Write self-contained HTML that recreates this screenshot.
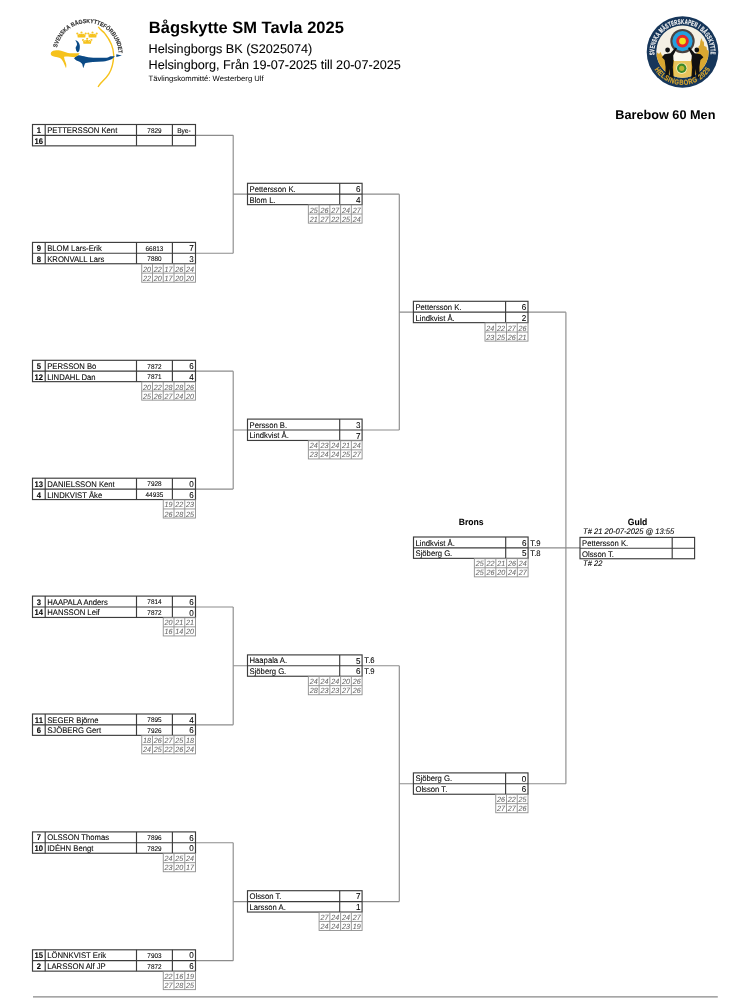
<!DOCTYPE html>
<html><head><meta charset="utf-8"><title>Bågskytte SM Tavla 2025</title>
<style>
html,body{margin:0;padding:0;background:#fff;}
body{width:751px;height:1000px;overflow:hidden;position:relative;font-family:"Liberation Sans", sans-serif;}
svg{position:absolute;left:0;top:0;will-change:transform;}
svg text{font-family:"Liberation Sans", sans-serif;text-rendering:geometricPrecision;}
</style></head><body>
<svg width="751" height="1000" viewBox="0 0 751 1000">
<text x="148.8" y="33.2" font-size="16.5" font-weight="bold">Bågskytte SM Tavla 2025</text>
<text x="148.5" y="52.5" font-size="12.65" stroke="#000" stroke-width="0.08">Helsingborgs BK (S2025074)</text>
<text x="148.5" y="69.2" font-size="12.65" stroke="#000" stroke-width="0.08">Helsingborg, Från 19-07-2025 till 20-07-2025</text>
<text x="148.5" y="80.6" font-size="7.7">Tävlingskommitté: Westerberg Ulf</text>
<text x="715.4" y="119" font-size="12.7" font-weight="bold" text-anchor="end">Barebow 60 Men</text>
<g id="sbf">
<text transform="translate(57.51,46.13) rotate(-75.3) scale(0.88,1)" text-anchor="middle" font-size="5.9" font-weight="bold" fill="#2e2e2e" stroke="#2e2e2e" stroke-width="0.12">S</text>
<text transform="translate(58.57,42.86) rotate(-68.9) scale(0.88,1)" text-anchor="middle" font-size="5.9" font-weight="bold" fill="#2e2e2e" stroke="#2e2e2e" stroke-width="0.12">V</text>
<text transform="translate(59.98,39.72) rotate(-62.6) scale(0.88,1)" text-anchor="middle" font-size="5.9" font-weight="bold" fill="#2e2e2e" stroke="#2e2e2e" stroke-width="0.12">E</text>
<text transform="translate(61.82,36.64) rotate(-55.9) scale(0.88,1)" text-anchor="middle" font-size="5.9" font-weight="bold" fill="#2e2e2e" stroke="#2e2e2e" stroke-width="0.12">N</text>
<text transform="translate(63.99,33.79) rotate(-49.3) scale(0.88,1)" text-anchor="middle" font-size="5.9" font-weight="bold" fill="#2e2e2e" stroke="#2e2e2e" stroke-width="0.12">S</text>
<text transform="translate(66.48,31.22) rotate(-42.7) scale(0.88,1)" text-anchor="middle" font-size="5.9" font-weight="bold" fill="#2e2e2e" stroke="#2e2e2e" stroke-width="0.12">K</text>
<text transform="translate(69.36,28.86) rotate(-35.8) scale(0.88,1)" text-anchor="middle" font-size="5.9" font-weight="bold" fill="#2e2e2e" stroke="#2e2e2e" stroke-width="0.12">A</text>
<text transform="translate(73.77,26.21) rotate(-26.3) scale(0.88,1)" text-anchor="middle" font-size="5.9" font-weight="bold" fill="#2e2e2e" stroke="#2e2e2e" stroke-width="0.12">B</text>
<text transform="translate(77.20,24.76) rotate(-19.4) scale(0.88,1)" text-anchor="middle" font-size="5.9" font-weight="bold" fill="#2e2e2e" stroke="#2e2e2e" stroke-width="0.12">Å</text>
<text transform="translate(80.93,23.70) rotate(-12.2) scale(0.88,1)" text-anchor="middle" font-size="5.9" font-weight="bold" fill="#2e2e2e" stroke="#2e2e2e" stroke-width="0.12">G</text>
<text transform="translate(84.61,23.13) rotate(-5.3) scale(0.88,1)" text-anchor="middle" font-size="5.9" font-weight="bold" fill="#2e2e2e" stroke="#2e2e2e" stroke-width="0.12">S</text>
<text transform="translate(88.19,23.01) rotate(1.3) scale(0.88,1)" text-anchor="middle" font-size="5.9" font-weight="bold" fill="#2e2e2e" stroke="#2e2e2e" stroke-width="0.12">K</text>
<text transform="translate(91.76,23.29) rotate(7.9) scale(0.88,1)" text-anchor="middle" font-size="5.9" font-weight="bold" fill="#2e2e2e" stroke="#2e2e2e" stroke-width="0.12">Y</text>
<text transform="translate(95.00,23.92) rotate(14.0) scale(0.88,1)" text-anchor="middle" font-size="5.9" font-weight="bold" fill="#2e2e2e" stroke="#2e2e2e" stroke-width="0.12">T</text>
<text transform="translate(98.01,24.84) rotate(19.8) scale(0.88,1)" text-anchor="middle" font-size="5.9" font-weight="bold" fill="#2e2e2e" stroke="#2e2e2e" stroke-width="0.12">T</text>
<text transform="translate(101.05,26.12) rotate(25.9) scale(0.88,1)" text-anchor="middle" font-size="5.9" font-weight="bold" fill="#2e2e2e" stroke="#2e2e2e" stroke-width="0.12">E</text>
<text transform="translate(103.93,27.71) rotate(32.0) scale(0.88,1)" text-anchor="middle" font-size="5.9" font-weight="bold" fill="#2e2e2e" stroke="#2e2e2e" stroke-width="0.12">F</text>
<text transform="translate(106.85,29.78) rotate(38.6) scale(0.88,1)" text-anchor="middle" font-size="5.9" font-weight="bold" fill="#2e2e2e" stroke="#2e2e2e" stroke-width="0.12">Ö</text>
<text transform="translate(109.72,32.38) rotate(45.8) scale(0.88,1)" text-anchor="middle" font-size="5.9" font-weight="bold" fill="#2e2e2e" stroke="#2e2e2e" stroke-width="0.12">R</text>
<text transform="translate(112.15,35.20) rotate(52.7) scale(0.88,1)" text-anchor="middle" font-size="5.9" font-weight="bold" fill="#2e2e2e" stroke="#2e2e2e" stroke-width="0.12">B</text>
<text transform="translate(114.23,38.30) rotate(59.6) scale(0.88,1)" text-anchor="middle" font-size="5.9" font-weight="bold" fill="#2e2e2e" stroke="#2e2e2e" stroke-width="0.12">U</text>
<text transform="translate(115.92,41.62) rotate(66.5) scale(0.88,1)" text-anchor="middle" font-size="5.9" font-weight="bold" fill="#2e2e2e" stroke="#2e2e2e" stroke-width="0.12">N</text>
<text transform="translate(117.20,45.12) rotate(73.4) scale(0.88,1)" text-anchor="middle" font-size="5.9" font-weight="bold" fill="#2e2e2e" stroke="#2e2e2e" stroke-width="0.12">D</text>
<text transform="translate(118.03,48.60) rotate(80.0) scale(0.88,1)" text-anchor="middle" font-size="5.9" font-weight="bold" fill="#2e2e2e" stroke="#2e2e2e" stroke-width="0.12">E</text>
<text transform="translate(118.43,51.88) rotate(86.1) scale(0.88,1)" text-anchor="middle" font-size="5.9" font-weight="bold" fill="#2e2e2e" stroke="#2e2e2e" stroke-width="0.12">T</text>
<g fill="#f6c21c">
<path id="crown" d="M-3.8,2.6 L-4.2,-1.0 L-2.2,0.4 L0,-2.0 L2.2,0.4 L4.2,-1.0 L3.8,2.6 Z M-4.2,-2.2 a1,1 0 1 0 0.01,0 Z M0,-3.4 a1,1 0 1 0 0.01,0 Z M4.2,-2.2 a1,1 0 1 0 0.01,0 Z M-2.2,-1.1 a0.7,0.7 0 1 0 0.01,0 Z M2.2,-1.1 a0.7,0.7 0 1 0 0.01,0 Z" transform="translate(81.5,34.8)"/>
<use href="#crown" transform="translate(11,0)"/>
<use href="#crown" transform="translate(5.7,6.4)"/>
</g>
<path d="M98.3,26.7 C100,30 103,31 105,33.7 C110,40 113.5,48 113.7,55 C113.5,65 110,72 108.9,73.8 C105,80 99,84 98.2,87" fill="none" stroke="#f6c21c" stroke-width="1.4"/>
<path fill="#0b4a86" d="M74.1,58.4 C75.5,56.5 77.5,55.3 78.9,55.3 C81,55.5 83.5,56.3 85.9,56.7 C89,57.3 92,57.7 96.2,57.7 L106.6,57.7 C108.5,57.5 109.5,56.4 110.8,56.2 L114.8,56.2 C113.5,57.5 112.5,58.9 110.8,59.4 C108,60.5 106,61.2 103.2,61.5 L92.8,61.9 C90,62.1 87.5,62.5 85.9,62.9 C85,63.3 84.8,63.6 84.6,64.4 L83.2,68.3 L82.3,64.2 C81.8,63.2 80.5,62 78.9,61.5 C77.5,61 76.2,60.4 75.5,59.8 Z"/>
<path fill="#0b4a86" d="M75.3,40.1 C77.5,40.8 79.2,42.5 79.7,45 C80.1,47.5 79.7,50 78.9,51.4 L77.4,52.3 C76.4,51.2 75.9,50.2 75.9,49.3 C75.6,48 75.5,47.2 76.2,46.5 C77.1,45.4 77.3,44.2 76.6,42.6 C76.2,41.6 75.7,40.9 75.3,40.1 Z"/>
<path fill="#0b4a86" d="M116.3,54.2 L121.9,55.6 L116.3,57 Z"/>
<path fill="#f6c21c" d="M50.7,53.7 C51,51.8 52.5,50.9 54.7,50.6 C56,50.3 57.5,50.2 58.7,50.3 C62,50.6 65,52.3 68,52.9 C70.5,53.2 72.5,53.2 74.7,53.2 L79.7,53.3 C79,54.5 78.2,55.2 77.3,55.7 C76.4,56.4 75.5,57 74.7,57.2 L68,56.4 C66.5,56.4 65,56.5 64,56.8 C64.3,58 64.4,59 64.7,60 C65.4,61.8 66.1,63.2 66.3,64.7 C66.5,66 66.3,67.2 66,68.2 C65,66 64.2,64 63.3,62 C62.3,60.2 61.2,58.8 60,58 C58.3,57.3 56.5,56.9 54.7,56.7 C52.5,56.3 50.6,55.3 50.7,53.7 Z"/>
</g>
<g id="smh">
<defs>
<clipPath id="inner"><circle cx="682.5" cy="51.6" r="26.2"/></clipPath>
</defs>
<circle cx="682.5" cy="52.0" r="35.8" fill="#16365a"/>
<circle cx="682.5" cy="51.6" r="26.2" fill="#f4f0e4"/>
<g clip-path="url(#inner)">
<path fill="#d9a731" d="M650,57 L656,55.5 L657.5,52.5 L659,54 L660.5,52 L662,55.5 L664,56 L668,60 L674,60 L674,90 L650,90 Z"/>
<path fill="#d9a731" d="M691,60 L694,56 L698,52 L698.5,46.5 L700,45 L700.3,41.5 L701.5,38 L702.7,41.5 L703.8,41.5 L704.2,46 L706.5,47 L707,50 L712,52 L716,54 L716,90 L691,90 Z"/>
<path fill="#fbf8ee" d="M674,52.5 L691,52.5 L691,61 L674,61 Z"/>
<path fill="#e9c45c" d="M674,61 L691,61 L691,80 L674,80 Z"/>
</g>
<circle cx="681.7" cy="68.3" r="5.6" fill="#f6eab0"/>
<circle cx="681.7" cy="68.3" r="4.7" fill="#3d8a2a"/>
<circle cx="681.7" cy="68.3" r="2.6" fill="#b9b531"/>
<circle cx="682.5" cy="41.1" r="12.2" fill="#4a4240"/>
<circle cx="682.5" cy="41.1" r="10.1" fill="#24a0de"/>
<circle cx="682.5" cy="41.1" r="6.3" fill="#e5262b"/>
<circle cx="682.5" cy="41.1" r="3.4" fill="#f4e11e"/>
<g fill="#111">
<circle cx="667.6" cy="50" r="2.4"/>
<path d="M662,57.2 L664.5,54.3 L670.5,53.2 L675.5,47.5 L677,48.3 L673.2,55.5 L673.5,61 L672.8,67 L673.6,78.5 L670.3,78.5 L669.3,69 L668.4,78.5 L665.3,78.5 L665.6,67 L664.6,60 Z"/>
<circle cx="696.8" cy="50" r="2.4"/>
<path d="M703.4,57.2 L700.6,54.3 L694.6,53.2 L689.5,47.3 L688,48.1 L691.8,55.5 L691.5,61 L692.2,67 L691.4,78.5 L694.7,78.5 L695.7,69 L696.6,78.5 L699.7,78.5 L699.4,67 L700.4,60 Z"/>
</g>
<text transform="translate(654.44,53.52) rotate(-93.1) scale(0.62,1)" text-anchor="middle" font-size="6.9" font-weight="bold" fill="#f4f4f4" stroke="#f4f4f4" stroke-width="0.2">S</text>
<text transform="translate(654.44,50.47) rotate(-86.9) scale(0.62,1)" text-anchor="middle" font-size="6.9" font-weight="bold" fill="#f4f4f4" stroke="#f4f4f4" stroke-width="0.2">V</text>
<text transform="translate(654.77,47.44) rotate(-80.7) scale(0.62,1)" text-anchor="middle" font-size="6.9" font-weight="bold" fill="#f4f4f4" stroke="#f4f4f4" stroke-width="0.2">E</text>
<text transform="translate(655.46,44.36) rotate(-74.2) scale(0.62,1)" text-anchor="middle" font-size="6.9" font-weight="bold" fill="#f4f4f4" stroke="#f4f4f4" stroke-width="0.2">N</text>
<text transform="translate(656.49,41.37) rotate(-67.8) scale(0.62,1)" text-anchor="middle" font-size="6.9" font-weight="bold" fill="#f4f4f4" stroke="#f4f4f4" stroke-width="0.2">S</text>
<text transform="translate(657.85,38.51) rotate(-61.3) scale(0.62,1)" text-anchor="middle" font-size="6.9" font-weight="bold" fill="#f4f4f4" stroke="#f4f4f4" stroke-width="0.2">K</text>
<text transform="translate(659.59,35.73) rotate(-54.6) scale(0.62,1)" text-anchor="middle" font-size="6.9" font-weight="bold" fill="#f4f4f4" stroke="#f4f4f4" stroke-width="0.2">A</text>
<text transform="translate(662.76,32.00) rotate(-44.6) scale(0.62,1)" text-anchor="middle" font-size="6.9" font-weight="bold" fill="#f4f4f4" stroke="#f4f4f4" stroke-width="0.2">M</text>
<text transform="translate(665.41,29.69) rotate(-37.5) scale(0.62,1)" text-anchor="middle" font-size="6.9" font-weight="bold" fill="#f4f4f4" stroke="#f4f4f4" stroke-width="0.2">Ä</text>
<text transform="translate(668.02,27.92) rotate(-31.0) scale(0.62,1)" text-anchor="middle" font-size="6.9" font-weight="bold" fill="#f4f4f4" stroke="#f4f4f4" stroke-width="0.2">S</text>
<text transform="translate(670.61,26.54) rotate(-25.0) scale(0.62,1)" text-anchor="middle" font-size="6.9" font-weight="bold" fill="#f4f4f4" stroke="#f4f4f4" stroke-width="0.2">T</text>
<text transform="translate(673.32,25.44) rotate(-19.1) scale(0.62,1)" text-anchor="middle" font-size="6.9" font-weight="bold" fill="#f4f4f4" stroke="#f4f4f4" stroke-width="0.2">E</text>
<text transform="translate(676.36,24.58) rotate(-12.6) scale(0.62,1)" text-anchor="middle" font-size="6.9" font-weight="bold" fill="#f4f4f4" stroke="#f4f4f4" stroke-width="0.2">R</text>
<text transform="translate(679.48,24.06) rotate(-6.2) scale(0.62,1)" text-anchor="middle" font-size="6.9" font-weight="bold" fill="#f4f4f4" stroke="#f4f4f4" stroke-width="0.2">S</text>
<text transform="translate(682.64,23.90) rotate(0.3) scale(0.62,1)" text-anchor="middle" font-size="6.9" font-weight="bold" fill="#f4f4f4" stroke="#f4f4f4" stroke-width="0.2">K</text>
<text transform="translate(685.91,24.11) rotate(7.0) scale(0.62,1)" text-anchor="middle" font-size="6.9" font-weight="bold" fill="#f4f4f4" stroke="#f4f4f4" stroke-width="0.2">A</text>
<text transform="translate(689.02,24.67) rotate(13.4) scale(0.62,1)" text-anchor="middle" font-size="6.9" font-weight="bold" fill="#f4f4f4" stroke="#f4f4f4" stroke-width="0.2">P</text>
<text transform="translate(691.94,25.53) rotate(19.6) scale(0.62,1)" text-anchor="middle" font-size="6.9" font-weight="bold" fill="#f4f4f4" stroke="#f4f4f4" stroke-width="0.2">E</text>
<text transform="translate(694.85,26.76) rotate(26.1) scale(0.62,1)" text-anchor="middle" font-size="6.9" font-weight="bold" fill="#f4f4f4" stroke="#f4f4f4" stroke-width="0.2">N</text>
<text transform="translate(698.07,28.61) rotate(33.6) scale(0.62,1)" text-anchor="middle" font-size="6.9" font-weight="bold" fill="#f4f4f4" stroke="#f4f4f4" stroke-width="0.2">I</text>
<text transform="translate(701.02,30.86) rotate(41.2) scale(0.62,1)" text-anchor="middle" font-size="6.9" font-weight="bold" fill="#f4f4f4" stroke="#f4f4f4" stroke-width="0.2">B</text>
<text transform="translate(703.35,33.16) rotate(47.9) scale(0.62,1)" text-anchor="middle" font-size="6.9" font-weight="bold" fill="#f4f4f4" stroke="#f4f4f4" stroke-width="0.2">Å</text>
<text transform="translate(705.47,35.82) rotate(54.8) scale(0.62,1)" text-anchor="middle" font-size="6.9" font-weight="bold" fill="#f4f4f4" stroke="#f4f4f4" stroke-width="0.2">G</text>
<text transform="translate(707.20,38.61) rotate(61.5) scale(0.62,1)" text-anchor="middle" font-size="6.9" font-weight="bold" fill="#f4f4f4" stroke="#f4f4f4" stroke-width="0.2">S</text>
<text transform="translate(708.55,41.47) rotate(68.0) scale(0.62,1)" text-anchor="middle" font-size="6.9" font-weight="bold" fill="#f4f4f4" stroke="#f4f4f4" stroke-width="0.2">K</text>
<text transform="translate(709.57,44.46) rotate(74.4) scale(0.62,1)" text-anchor="middle" font-size="6.9" font-weight="bold" fill="#f4f4f4" stroke="#f4f4f4" stroke-width="0.2">Y</text>
<text transform="translate(710.21,47.32) rotate(80.4) scale(0.62,1)" text-anchor="middle" font-size="6.9" font-weight="bold" fill="#f4f4f4" stroke="#f4f4f4" stroke-width="0.2">T</text>
<text transform="translate(710.54,50.10) rotate(86.1) scale(0.62,1)" text-anchor="middle" font-size="6.9" font-weight="bold" fill="#f4f4f4" stroke="#f4f4f4" stroke-width="0.2">T</text>
<text transform="translate(710.58,53.03) rotate(92.1) scale(0.62,1)" text-anchor="middle" font-size="6.9" font-weight="bold" fill="#f4f4f4" stroke="#f4f4f4" stroke-width="0.2">E</text>
<text transform="translate(655.77,71.19) rotate(54.3) scale(0.8,1)" text-anchor="middle" font-size="7.3" font-weight="bold" fill="#d9a62c" stroke="#d9a62c" stroke-width="0.2">H</text>
<text transform="translate(658.72,74.74) rotate(46.3) scale(0.8,1)" text-anchor="middle" font-size="7.3" font-weight="bold" fill="#d9a62c" stroke="#d9a62c" stroke-width="0.2">E</text>
<text transform="translate(661.89,77.64) rotate(38.8) scale(0.8,1)" text-anchor="middle" font-size="7.3" font-weight="bold" fill="#d9a62c" stroke="#d9a62c" stroke-width="0.2">L</text>
<text transform="translate(665.41,80.11) rotate(31.3) scale(0.8,1)" text-anchor="middle" font-size="7.3" font-weight="bold" fill="#d9a62c" stroke="#d9a62c" stroke-width="0.2">S</text>
<text transform="translate(668.33,81.69) rotate(25.5) scale(0.8,1)" text-anchor="middle" font-size="7.3" font-weight="bold" fill="#d9a62c" stroke="#d9a62c" stroke-width="0.2">I</text>
<text transform="translate(671.55,83.03) rotate(19.4) scale(0.8,1)" text-anchor="middle" font-size="7.3" font-weight="bold" fill="#d9a62c" stroke="#d9a62c" stroke-width="0.2">N</text>
<text transform="translate(676.33,84.32) rotate(10.8) scale(0.8,1)" text-anchor="middle" font-size="7.3" font-weight="bold" fill="#d9a62c" stroke="#d9a62c" stroke-width="0.2">G</text>
<text transform="translate(681.24,84.88) rotate(2.2) scale(0.8,1)" text-anchor="middle" font-size="7.3" font-weight="bold" fill="#d9a62c" stroke="#d9a62c" stroke-width="0.2">B</text>
<text transform="translate(686.18,84.69) rotate(-6.4) scale(0.8,1)" text-anchor="middle" font-size="7.3" font-weight="bold" fill="#d9a62c" stroke="#d9a62c" stroke-width="0.2">O</text>
<text transform="translate(691.03,83.77) rotate(-15.0) scale(0.8,1)" text-anchor="middle" font-size="7.3" font-weight="bold" fill="#d9a62c" stroke="#d9a62c" stroke-width="0.2">R</text>
<text transform="translate(695.70,82.14) rotate(-23.7) scale(0.8,1)" text-anchor="middle" font-size="7.3" font-weight="bold" fill="#d9a62c" stroke="#d9a62c" stroke-width="0.2">G</text>
<text transform="translate(701.48,78.87) rotate(-35.2) scale(0.8,1)" text-anchor="middle" font-size="7.3" font-weight="bold" fill="#d9a62c" stroke="#d9a62c" stroke-width="0.2">2</text>
<text transform="translate(704.46,76.49) rotate(-41.9) scale(0.8,1)" text-anchor="middle" font-size="7.3" font-weight="bold" fill="#d9a62c" stroke="#d9a62c" stroke-width="0.2">0</text>
<text transform="translate(707.15,73.79) rotate(-48.5) scale(0.8,1)" text-anchor="middle" font-size="7.3" font-weight="bold" fill="#d9a62c" stroke="#d9a62c" stroke-width="0.2">2</text>
<text transform="translate(709.51,70.79) rotate(-55.2) scale(0.8,1)" text-anchor="middle" font-size="7.3" font-weight="bold" fill="#d9a62c" stroke="#d9a62c" stroke-width="0.2">5</text>
</g>
<line x1="195.50" y1="135.35" x2="233.20" y2="135.35" stroke="#8c8c8c" stroke-width="1.15"/>
<line x1="195.50" y1="253.25" x2="233.20" y2="253.25" stroke="#8c8c8c" stroke-width="1.15"/>
<line x1="195.50" y1="371.15" x2="233.20" y2="371.15" stroke="#8c8c8c" stroke-width="1.15"/>
<line x1="195.50" y1="489.05" x2="233.20" y2="489.05" stroke="#8c8c8c" stroke-width="1.15"/>
<line x1="195.50" y1="606.95" x2="233.20" y2="606.95" stroke="#8c8c8c" stroke-width="1.15"/>
<line x1="195.50" y1="724.85" x2="233.20" y2="724.85" stroke="#8c8c8c" stroke-width="1.15"/>
<line x1="195.50" y1="842.75" x2="233.20" y2="842.75" stroke="#8c8c8c" stroke-width="1.15"/>
<line x1="195.50" y1="960.65" x2="233.20" y2="960.65" stroke="#8c8c8c" stroke-width="1.15"/>
<line x1="233.20" y1="135.35" x2="233.20" y2="253.25" stroke="#8c8c8c" stroke-width="1.15"/>
<line x1="233.20" y1="194.15" x2="399.30" y2="194.15" stroke="#8c8c8c" stroke-width="1.15"/>
<line x1="233.20" y1="371.15" x2="233.20" y2="489.05" stroke="#8c8c8c" stroke-width="1.15"/>
<line x1="233.20" y1="429.95" x2="399.30" y2="429.95" stroke="#8c8c8c" stroke-width="1.15"/>
<line x1="233.20" y1="606.95" x2="233.20" y2="724.85" stroke="#8c8c8c" stroke-width="1.15"/>
<line x1="233.20" y1="665.75" x2="399.30" y2="665.75" stroke="#8c8c8c" stroke-width="1.15"/>
<line x1="233.20" y1="842.75" x2="233.20" y2="960.65" stroke="#8c8c8c" stroke-width="1.15"/>
<line x1="233.20" y1="901.55" x2="399.30" y2="901.55" stroke="#8c8c8c" stroke-width="1.15"/>
<line x1="399.30" y1="194.15" x2="399.30" y2="429.95" stroke="#8c8c8c" stroke-width="1.15"/>
<line x1="399.30" y1="312.15" x2="565.90" y2="312.15" stroke="#8c8c8c" stroke-width="1.15"/>
<line x1="399.30" y1="665.75" x2="399.30" y2="901.55" stroke="#8c8c8c" stroke-width="1.15"/>
<line x1="399.30" y1="783.75" x2="565.90" y2="783.75" stroke="#8c8c8c" stroke-width="1.15"/>
<line x1="565.90" y1="312.15" x2="565.90" y2="783.75" stroke="#8c8c8c" stroke-width="1.15"/>
<line x1="528.10" y1="547.85" x2="580.00" y2="547.85" stroke="#8c8c8c" stroke-width="1.15"/>
<rect x="32.50" y="124.50" width="163.00" height="21.35" fill="#fff" stroke="#3c3c3c" stroke-width="1.15"/>
<line x1="32.50" y1="135.35" x2="195.50" y2="135.35" stroke="#3c3c3c" stroke-width="1.15"/>
<line x1="45.20" y1="124.50" x2="45.20" y2="145.85" stroke="#3c3c3c" stroke-width="1.15"/>
<line x1="136.50" y1="124.50" x2="136.50" y2="145.85" stroke="#3c3c3c" stroke-width="1.15"/>
<line x1="172.40" y1="124.50" x2="172.40" y2="145.85" stroke="#3c3c3c" stroke-width="1.15"/>
<text transform="translate(38.85,133.00) scale(1,1.06)" font-size="7.7" text-anchor="middle" font-weight="bold" stroke="#000" stroke-width="0.07">1</text>
<text transform="translate(47.20,133.00) scale(1,1.06)" font-size="7.7" stroke="#000" stroke-width="0.07">PETTERSSON Kent</text>
<text transform="translate(154.45,132.70) scale(1,1.06)" font-size="6.4" text-anchor="middle" stroke="#000" stroke-width="0.07">7829</text>
<text transform="translate(183.95,132.70) scale(1,1.06)" font-size="6.6" text-anchor="middle" stroke="#000" stroke-width="0.07">Bye-</text>
<text transform="translate(38.85,143.85) scale(1,1.06)" font-size="7.7" text-anchor="middle" font-weight="bold" stroke="#000" stroke-width="0.07">16</text>
<text transform="translate(47.20,143.85) scale(1,1.06)" font-size="7.7" stroke="#000" stroke-width="0.07"></text>
<text transform="translate(154.45,143.55) scale(1,1.06)" font-size="6.4" text-anchor="middle" stroke="#000" stroke-width="0.07"></text>
<text transform="translate(193.80,143.95) scale(1,1.06)" font-size="8.1" text-anchor="end" stroke="#000" stroke-width="0.07"></text>
<rect x="32.50" y="242.40" width="163.00" height="21.35" fill="#fff" stroke="#3c3c3c" stroke-width="1.15"/>
<line x1="32.50" y1="253.25" x2="195.50" y2="253.25" stroke="#3c3c3c" stroke-width="1.15"/>
<line x1="45.20" y1="242.40" x2="45.20" y2="263.75" stroke="#3c3c3c" stroke-width="1.15"/>
<line x1="136.50" y1="242.40" x2="136.50" y2="263.75" stroke="#3c3c3c" stroke-width="1.15"/>
<line x1="172.40" y1="242.40" x2="172.40" y2="263.75" stroke="#3c3c3c" stroke-width="1.15"/>
<text transform="translate(38.85,250.90) scale(1,1.06)" font-size="7.7" text-anchor="middle" font-weight="bold" stroke="#000" stroke-width="0.07">9</text>
<text transform="translate(47.20,250.90) scale(1,1.06)" font-size="7.7" stroke="#000" stroke-width="0.07">BLOM Lars-Erik</text>
<text transform="translate(154.45,250.60) scale(1,1.06)" font-size="6.4" text-anchor="middle" stroke="#000" stroke-width="0.07">66813</text>
<text transform="translate(193.80,251.00) scale(1,1.06)" font-size="8.1" text-anchor="end" stroke="#000" stroke-width="0.07">7</text>
<text transform="translate(38.85,261.75) scale(1,1.06)" font-size="7.7" text-anchor="middle" font-weight="bold" stroke="#000" stroke-width="0.07">8</text>
<text transform="translate(47.20,261.75) scale(1,1.06)" font-size="7.7" stroke="#000" stroke-width="0.07">KRONVALL Lars</text>
<text transform="translate(154.45,261.45) scale(1,1.06)" font-size="6.4" text-anchor="middle" stroke="#000" stroke-width="0.07">7880</text>
<text transform="translate(193.80,261.85) scale(1,1.06)" font-size="8.1" text-anchor="end" stroke="#000" stroke-width="0.07">3</text>
<rect x="141.75" y="264.05" width="53.75" height="18.20" fill="#fff" stroke="#8e8e8e" stroke-width="0.9"/>
<line x1="152.50" y1="264.05" x2="152.50" y2="282.25" stroke="#8e8e8e" stroke-width="0.9"/>
<line x1="163.25" y1="264.05" x2="163.25" y2="282.25" stroke="#8e8e8e" stroke-width="0.9"/>
<line x1="174.00" y1="264.05" x2="174.00" y2="282.25" stroke="#8e8e8e" stroke-width="0.9"/>
<line x1="184.75" y1="264.05" x2="184.75" y2="282.25" stroke="#8e8e8e" stroke-width="0.9"/>
<line x1="141.75" y1="273.15" x2="195.50" y2="273.15" stroke="#8e8e8e" stroke-width="0.9"/>
<text transform="translate(151.10,271.65) scale(1,1.06)" font-size="7.2" text-anchor="end" font-style="italic" fill="#6a6a6a" stroke="#6a6a6a" stroke-width="0.07">20</text>
<text transform="translate(151.10,280.75) scale(1,1.06)" font-size="7.2" text-anchor="end" font-style="italic" fill="#6a6a6a" stroke="#6a6a6a" stroke-width="0.07">22</text>
<text transform="translate(161.85,271.65) scale(1,1.06)" font-size="7.2" text-anchor="end" font-style="italic" fill="#6a6a6a" stroke="#6a6a6a" stroke-width="0.07">22</text>
<text transform="translate(161.85,280.75) scale(1,1.06)" font-size="7.2" text-anchor="end" font-style="italic" fill="#6a6a6a" stroke="#6a6a6a" stroke-width="0.07">20</text>
<text transform="translate(172.60,271.65) scale(1,1.06)" font-size="7.2" text-anchor="end" font-style="italic" fill="#6a6a6a" stroke="#6a6a6a" stroke-width="0.07">17</text>
<text transform="translate(172.60,280.75) scale(1,1.06)" font-size="7.2" text-anchor="end" font-style="italic" fill="#6a6a6a" stroke="#6a6a6a" stroke-width="0.07">17</text>
<text transform="translate(183.35,271.65) scale(1,1.06)" font-size="7.2" text-anchor="end" font-style="italic" fill="#6a6a6a" stroke="#6a6a6a" stroke-width="0.07">26</text>
<text transform="translate(183.35,280.75) scale(1,1.06)" font-size="7.2" text-anchor="end" font-style="italic" fill="#6a6a6a" stroke="#6a6a6a" stroke-width="0.07">20</text>
<text transform="translate(194.10,271.65) scale(1,1.06)" font-size="7.2" text-anchor="end" font-style="italic" fill="#6a6a6a" stroke="#6a6a6a" stroke-width="0.07">24</text>
<text transform="translate(194.10,280.75) scale(1,1.06)" font-size="7.2" text-anchor="end" font-style="italic" fill="#6a6a6a" stroke="#6a6a6a" stroke-width="0.07">20</text>
<rect x="32.50" y="360.30" width="163.00" height="21.35" fill="#fff" stroke="#3c3c3c" stroke-width="1.15"/>
<line x1="32.50" y1="371.15" x2="195.50" y2="371.15" stroke="#3c3c3c" stroke-width="1.15"/>
<line x1="45.20" y1="360.30" x2="45.20" y2="381.65" stroke="#3c3c3c" stroke-width="1.15"/>
<line x1="136.50" y1="360.30" x2="136.50" y2="381.65" stroke="#3c3c3c" stroke-width="1.15"/>
<line x1="172.40" y1="360.30" x2="172.40" y2="381.65" stroke="#3c3c3c" stroke-width="1.15"/>
<text transform="translate(38.85,368.80) scale(1,1.06)" font-size="7.7" text-anchor="middle" font-weight="bold" stroke="#000" stroke-width="0.07">5</text>
<text transform="translate(47.20,368.80) scale(1,1.06)" font-size="7.7" stroke="#000" stroke-width="0.07">PERSSON Bo</text>
<text transform="translate(154.45,368.50) scale(1,1.06)" font-size="6.4" text-anchor="middle" stroke="#000" stroke-width="0.07">7872</text>
<text transform="translate(193.80,368.90) scale(1,1.06)" font-size="8.1" text-anchor="end" stroke="#000" stroke-width="0.07">6</text>
<text transform="translate(38.85,379.65) scale(1,1.06)" font-size="7.7" text-anchor="middle" font-weight="bold" stroke="#000" stroke-width="0.07">12</text>
<text transform="translate(47.20,379.65) scale(1,1.06)" font-size="7.7" stroke="#000" stroke-width="0.07">LINDAHL Dan</text>
<text transform="translate(154.45,379.35) scale(1,1.06)" font-size="6.4" text-anchor="middle" stroke="#000" stroke-width="0.07">7871</text>
<text transform="translate(193.80,379.75) scale(1,1.06)" font-size="8.1" text-anchor="end" stroke="#000" stroke-width="0.07">4</text>
<rect x="141.75" y="381.95" width="53.75" height="18.20" fill="#fff" stroke="#8e8e8e" stroke-width="0.9"/>
<line x1="152.50" y1="381.95" x2="152.50" y2="400.15" stroke="#8e8e8e" stroke-width="0.9"/>
<line x1="163.25" y1="381.95" x2="163.25" y2="400.15" stroke="#8e8e8e" stroke-width="0.9"/>
<line x1="174.00" y1="381.95" x2="174.00" y2="400.15" stroke="#8e8e8e" stroke-width="0.9"/>
<line x1="184.75" y1="381.95" x2="184.75" y2="400.15" stroke="#8e8e8e" stroke-width="0.9"/>
<line x1="141.75" y1="391.05" x2="195.50" y2="391.05" stroke="#8e8e8e" stroke-width="0.9"/>
<text transform="translate(151.10,389.55) scale(1,1.06)" font-size="7.2" text-anchor="end" font-style="italic" fill="#6a6a6a" stroke="#6a6a6a" stroke-width="0.07">20</text>
<text transform="translate(151.10,398.65) scale(1,1.06)" font-size="7.2" text-anchor="end" font-style="italic" fill="#6a6a6a" stroke="#6a6a6a" stroke-width="0.07">25</text>
<text transform="translate(161.85,389.55) scale(1,1.06)" font-size="7.2" text-anchor="end" font-style="italic" fill="#6a6a6a" stroke="#6a6a6a" stroke-width="0.07">22</text>
<text transform="translate(161.85,398.65) scale(1,1.06)" font-size="7.2" text-anchor="end" font-style="italic" fill="#6a6a6a" stroke="#6a6a6a" stroke-width="0.07">26</text>
<text transform="translate(172.60,389.55) scale(1,1.06)" font-size="7.2" text-anchor="end" font-style="italic" fill="#6a6a6a" stroke="#6a6a6a" stroke-width="0.07">28</text>
<text transform="translate(172.60,398.65) scale(1,1.06)" font-size="7.2" text-anchor="end" font-style="italic" fill="#6a6a6a" stroke="#6a6a6a" stroke-width="0.07">27</text>
<text transform="translate(183.35,389.55) scale(1,1.06)" font-size="7.2" text-anchor="end" font-style="italic" fill="#6a6a6a" stroke="#6a6a6a" stroke-width="0.07">28</text>
<text transform="translate(183.35,398.65) scale(1,1.06)" font-size="7.2" text-anchor="end" font-style="italic" fill="#6a6a6a" stroke="#6a6a6a" stroke-width="0.07">24</text>
<text transform="translate(194.10,389.55) scale(1,1.06)" font-size="7.2" text-anchor="end" font-style="italic" fill="#6a6a6a" stroke="#6a6a6a" stroke-width="0.07">26</text>
<text transform="translate(194.10,398.65) scale(1,1.06)" font-size="7.2" text-anchor="end" font-style="italic" fill="#6a6a6a" stroke="#6a6a6a" stroke-width="0.07">20</text>
<rect x="32.50" y="478.20" width="163.00" height="21.35" fill="#fff" stroke="#3c3c3c" stroke-width="1.15"/>
<line x1="32.50" y1="489.05" x2="195.50" y2="489.05" stroke="#3c3c3c" stroke-width="1.15"/>
<line x1="45.20" y1="478.20" x2="45.20" y2="499.55" stroke="#3c3c3c" stroke-width="1.15"/>
<line x1="136.50" y1="478.20" x2="136.50" y2="499.55" stroke="#3c3c3c" stroke-width="1.15"/>
<line x1="172.40" y1="478.20" x2="172.40" y2="499.55" stroke="#3c3c3c" stroke-width="1.15"/>
<text transform="translate(38.85,486.70) scale(1,1.06)" font-size="7.7" text-anchor="middle" font-weight="bold" stroke="#000" stroke-width="0.07">13</text>
<text transform="translate(47.20,486.70) scale(1,1.06)" font-size="7.7" stroke="#000" stroke-width="0.07">DANIELSSON Kent</text>
<text transform="translate(154.45,486.40) scale(1,1.06)" font-size="6.4" text-anchor="middle" stroke="#000" stroke-width="0.07">7928</text>
<text transform="translate(193.80,486.80) scale(1,1.06)" font-size="8.1" text-anchor="end" stroke="#000" stroke-width="0.07">0</text>
<text transform="translate(38.85,497.55) scale(1,1.06)" font-size="7.7" text-anchor="middle" font-weight="bold" stroke="#000" stroke-width="0.07">4</text>
<text transform="translate(47.20,497.55) scale(1,1.06)" font-size="7.7" stroke="#000" stroke-width="0.07">LINDKVIST Åke</text>
<text transform="translate(154.45,497.25) scale(1,1.06)" font-size="6.4" text-anchor="middle" stroke="#000" stroke-width="0.07">44935</text>
<text transform="translate(193.80,497.65) scale(1,1.06)" font-size="8.1" text-anchor="end" stroke="#000" stroke-width="0.07">6</text>
<rect x="163.25" y="499.85" width="32.25" height="18.20" fill="#fff" stroke="#8e8e8e" stroke-width="0.9"/>
<line x1="174.00" y1="499.85" x2="174.00" y2="518.05" stroke="#8e8e8e" stroke-width="0.9"/>
<line x1="184.75" y1="499.85" x2="184.75" y2="518.05" stroke="#8e8e8e" stroke-width="0.9"/>
<line x1="163.25" y1="508.95" x2="195.50" y2="508.95" stroke="#8e8e8e" stroke-width="0.9"/>
<text transform="translate(172.60,507.45) scale(1,1.06)" font-size="7.2" text-anchor="end" font-style="italic" fill="#6a6a6a" stroke="#6a6a6a" stroke-width="0.07">19</text>
<text transform="translate(172.60,516.55) scale(1,1.06)" font-size="7.2" text-anchor="end" font-style="italic" fill="#6a6a6a" stroke="#6a6a6a" stroke-width="0.07">26</text>
<text transform="translate(183.35,507.45) scale(1,1.06)" font-size="7.2" text-anchor="end" font-style="italic" fill="#6a6a6a" stroke="#6a6a6a" stroke-width="0.07">22</text>
<text transform="translate(183.35,516.55) scale(1,1.06)" font-size="7.2" text-anchor="end" font-style="italic" fill="#6a6a6a" stroke="#6a6a6a" stroke-width="0.07">28</text>
<text transform="translate(194.10,507.45) scale(1,1.06)" font-size="7.2" text-anchor="end" font-style="italic" fill="#6a6a6a" stroke="#6a6a6a" stroke-width="0.07">23</text>
<text transform="translate(194.10,516.55) scale(1,1.06)" font-size="7.2" text-anchor="end" font-style="italic" fill="#6a6a6a" stroke="#6a6a6a" stroke-width="0.07">25</text>
<rect x="32.50" y="596.10" width="163.00" height="21.35" fill="#fff" stroke="#3c3c3c" stroke-width="1.15"/>
<line x1="32.50" y1="606.95" x2="195.50" y2="606.95" stroke="#3c3c3c" stroke-width="1.15"/>
<line x1="45.20" y1="596.10" x2="45.20" y2="617.45" stroke="#3c3c3c" stroke-width="1.15"/>
<line x1="136.50" y1="596.10" x2="136.50" y2="617.45" stroke="#3c3c3c" stroke-width="1.15"/>
<line x1="172.40" y1="596.10" x2="172.40" y2="617.45" stroke="#3c3c3c" stroke-width="1.15"/>
<text transform="translate(38.85,604.60) scale(1,1.06)" font-size="7.7" text-anchor="middle" font-weight="bold" stroke="#000" stroke-width="0.07">3</text>
<text transform="translate(47.20,604.60) scale(1,1.06)" font-size="7.7" stroke="#000" stroke-width="0.07">HAAPALA Anders</text>
<text transform="translate(154.45,604.30) scale(1,1.06)" font-size="6.4" text-anchor="middle" stroke="#000" stroke-width="0.07">7814</text>
<text transform="translate(193.80,604.70) scale(1,1.06)" font-size="8.1" text-anchor="end" stroke="#000" stroke-width="0.07">6</text>
<text transform="translate(38.85,615.45) scale(1,1.06)" font-size="7.7" text-anchor="middle" font-weight="bold" stroke="#000" stroke-width="0.07">14</text>
<text transform="translate(47.20,615.45) scale(1,1.06)" font-size="7.7" stroke="#000" stroke-width="0.07">HANSSON Leif</text>
<text transform="translate(154.45,615.15) scale(1,1.06)" font-size="6.4" text-anchor="middle" stroke="#000" stroke-width="0.07">7872</text>
<text transform="translate(193.80,615.55) scale(1,1.06)" font-size="8.1" text-anchor="end" stroke="#000" stroke-width="0.07">0</text>
<rect x="163.25" y="617.75" width="32.25" height="18.20" fill="#fff" stroke="#8e8e8e" stroke-width="0.9"/>
<line x1="174.00" y1="617.75" x2="174.00" y2="635.95" stroke="#8e8e8e" stroke-width="0.9"/>
<line x1="184.75" y1="617.75" x2="184.75" y2="635.95" stroke="#8e8e8e" stroke-width="0.9"/>
<line x1="163.25" y1="626.85" x2="195.50" y2="626.85" stroke="#8e8e8e" stroke-width="0.9"/>
<text transform="translate(172.60,625.35) scale(1,1.06)" font-size="7.2" text-anchor="end" font-style="italic" fill="#6a6a6a" stroke="#6a6a6a" stroke-width="0.07">20</text>
<text transform="translate(172.60,634.45) scale(1,1.06)" font-size="7.2" text-anchor="end" font-style="italic" fill="#6a6a6a" stroke="#6a6a6a" stroke-width="0.07">16</text>
<text transform="translate(183.35,625.35) scale(1,1.06)" font-size="7.2" text-anchor="end" font-style="italic" fill="#6a6a6a" stroke="#6a6a6a" stroke-width="0.07">21</text>
<text transform="translate(183.35,634.45) scale(1,1.06)" font-size="7.2" text-anchor="end" font-style="italic" fill="#6a6a6a" stroke="#6a6a6a" stroke-width="0.07">14</text>
<text transform="translate(194.10,625.35) scale(1,1.06)" font-size="7.2" text-anchor="end" font-style="italic" fill="#6a6a6a" stroke="#6a6a6a" stroke-width="0.07">21</text>
<text transform="translate(194.10,634.45) scale(1,1.06)" font-size="7.2" text-anchor="end" font-style="italic" fill="#6a6a6a" stroke="#6a6a6a" stroke-width="0.07">20</text>
<rect x="32.50" y="714.00" width="163.00" height="21.35" fill="#fff" stroke="#3c3c3c" stroke-width="1.15"/>
<line x1="32.50" y1="724.85" x2="195.50" y2="724.85" stroke="#3c3c3c" stroke-width="1.15"/>
<line x1="45.20" y1="714.00" x2="45.20" y2="735.35" stroke="#3c3c3c" stroke-width="1.15"/>
<line x1="136.50" y1="714.00" x2="136.50" y2="735.35" stroke="#3c3c3c" stroke-width="1.15"/>
<line x1="172.40" y1="714.00" x2="172.40" y2="735.35" stroke="#3c3c3c" stroke-width="1.15"/>
<text transform="translate(38.85,722.50) scale(1,1.06)" font-size="7.7" text-anchor="middle" font-weight="bold" stroke="#000" stroke-width="0.07">11</text>
<text transform="translate(47.20,722.50) scale(1,1.06)" font-size="7.7" stroke="#000" stroke-width="0.07">SEGER Björne</text>
<text transform="translate(154.45,722.20) scale(1,1.06)" font-size="6.4" text-anchor="middle" stroke="#000" stroke-width="0.07">7895</text>
<text transform="translate(193.80,722.60) scale(1,1.06)" font-size="8.1" text-anchor="end" stroke="#000" stroke-width="0.07">4</text>
<text transform="translate(38.85,733.35) scale(1,1.06)" font-size="7.7" text-anchor="middle" font-weight="bold" stroke="#000" stroke-width="0.07">6</text>
<text transform="translate(47.20,733.35) scale(1,1.06)" font-size="7.7" stroke="#000" stroke-width="0.07">SJÖBERG Gert</text>
<text transform="translate(154.45,733.05) scale(1,1.06)" font-size="6.4" text-anchor="middle" stroke="#000" stroke-width="0.07">7926</text>
<text transform="translate(193.80,733.45) scale(1,1.06)" font-size="8.1" text-anchor="end" stroke="#000" stroke-width="0.07">6</text>
<rect x="141.75" y="735.65" width="53.75" height="18.20" fill="#fff" stroke="#8e8e8e" stroke-width="0.9"/>
<line x1="152.50" y1="735.65" x2="152.50" y2="753.85" stroke="#8e8e8e" stroke-width="0.9"/>
<line x1="163.25" y1="735.65" x2="163.25" y2="753.85" stroke="#8e8e8e" stroke-width="0.9"/>
<line x1="174.00" y1="735.65" x2="174.00" y2="753.85" stroke="#8e8e8e" stroke-width="0.9"/>
<line x1="184.75" y1="735.65" x2="184.75" y2="753.85" stroke="#8e8e8e" stroke-width="0.9"/>
<line x1="141.75" y1="744.75" x2="195.50" y2="744.75" stroke="#8e8e8e" stroke-width="0.9"/>
<text transform="translate(151.10,743.25) scale(1,1.06)" font-size="7.2" text-anchor="end" font-style="italic" fill="#6a6a6a" stroke="#6a6a6a" stroke-width="0.07">18</text>
<text transform="translate(151.10,752.35) scale(1,1.06)" font-size="7.2" text-anchor="end" font-style="italic" fill="#6a6a6a" stroke="#6a6a6a" stroke-width="0.07">24</text>
<text transform="translate(161.85,743.25) scale(1,1.06)" font-size="7.2" text-anchor="end" font-style="italic" fill="#6a6a6a" stroke="#6a6a6a" stroke-width="0.07">26</text>
<text transform="translate(161.85,752.35) scale(1,1.06)" font-size="7.2" text-anchor="end" font-style="italic" fill="#6a6a6a" stroke="#6a6a6a" stroke-width="0.07">25</text>
<text transform="translate(172.60,743.25) scale(1,1.06)" font-size="7.2" text-anchor="end" font-style="italic" fill="#6a6a6a" stroke="#6a6a6a" stroke-width="0.07">27</text>
<text transform="translate(172.60,752.35) scale(1,1.06)" font-size="7.2" text-anchor="end" font-style="italic" fill="#6a6a6a" stroke="#6a6a6a" stroke-width="0.07">22</text>
<text transform="translate(183.35,743.25) scale(1,1.06)" font-size="7.2" text-anchor="end" font-style="italic" fill="#6a6a6a" stroke="#6a6a6a" stroke-width="0.07">25</text>
<text transform="translate(183.35,752.35) scale(1,1.06)" font-size="7.2" text-anchor="end" font-style="italic" fill="#6a6a6a" stroke="#6a6a6a" stroke-width="0.07">26</text>
<text transform="translate(194.10,743.25) scale(1,1.06)" font-size="7.2" text-anchor="end" font-style="italic" fill="#6a6a6a" stroke="#6a6a6a" stroke-width="0.07">18</text>
<text transform="translate(194.10,752.35) scale(1,1.06)" font-size="7.2" text-anchor="end" font-style="italic" fill="#6a6a6a" stroke="#6a6a6a" stroke-width="0.07">24</text>
<rect x="32.50" y="831.90" width="163.00" height="21.35" fill="#fff" stroke="#3c3c3c" stroke-width="1.15"/>
<line x1="32.50" y1="842.75" x2="195.50" y2="842.75" stroke="#3c3c3c" stroke-width="1.15"/>
<line x1="45.20" y1="831.90" x2="45.20" y2="853.25" stroke="#3c3c3c" stroke-width="1.15"/>
<line x1="136.50" y1="831.90" x2="136.50" y2="853.25" stroke="#3c3c3c" stroke-width="1.15"/>
<line x1="172.40" y1="831.90" x2="172.40" y2="853.25" stroke="#3c3c3c" stroke-width="1.15"/>
<text transform="translate(38.85,840.40) scale(1,1.06)" font-size="7.7" text-anchor="middle" font-weight="bold" stroke="#000" stroke-width="0.07">7</text>
<text transform="translate(47.20,840.40) scale(1,1.06)" font-size="7.7" stroke="#000" stroke-width="0.07">OLSSON Thomas</text>
<text transform="translate(154.45,840.10) scale(1,1.06)" font-size="6.4" text-anchor="middle" stroke="#000" stroke-width="0.07">7896</text>
<text transform="translate(193.80,840.50) scale(1,1.06)" font-size="8.1" text-anchor="end" stroke="#000" stroke-width="0.07">6</text>
<text transform="translate(38.85,851.25) scale(1,1.06)" font-size="7.7" text-anchor="middle" font-weight="bold" stroke="#000" stroke-width="0.07">10</text>
<text transform="translate(47.20,851.25) scale(1,1.06)" font-size="7.7" stroke="#000" stroke-width="0.07">IDÉHN Bengt</text>
<text transform="translate(154.45,850.95) scale(1,1.06)" font-size="6.4" text-anchor="middle" stroke="#000" stroke-width="0.07">7829</text>
<text transform="translate(193.80,851.35) scale(1,1.06)" font-size="8.1" text-anchor="end" stroke="#000" stroke-width="0.07">0</text>
<rect x="163.25" y="853.55" width="32.25" height="18.20" fill="#fff" stroke="#8e8e8e" stroke-width="0.9"/>
<line x1="174.00" y1="853.55" x2="174.00" y2="871.75" stroke="#8e8e8e" stroke-width="0.9"/>
<line x1="184.75" y1="853.55" x2="184.75" y2="871.75" stroke="#8e8e8e" stroke-width="0.9"/>
<line x1="163.25" y1="862.65" x2="195.50" y2="862.65" stroke="#8e8e8e" stroke-width="0.9"/>
<text transform="translate(172.60,861.15) scale(1,1.06)" font-size="7.2" text-anchor="end" font-style="italic" fill="#6a6a6a" stroke="#6a6a6a" stroke-width="0.07">24</text>
<text transform="translate(172.60,870.25) scale(1,1.06)" font-size="7.2" text-anchor="end" font-style="italic" fill="#6a6a6a" stroke="#6a6a6a" stroke-width="0.07">23</text>
<text transform="translate(183.35,861.15) scale(1,1.06)" font-size="7.2" text-anchor="end" font-style="italic" fill="#6a6a6a" stroke="#6a6a6a" stroke-width="0.07">25</text>
<text transform="translate(183.35,870.25) scale(1,1.06)" font-size="7.2" text-anchor="end" font-style="italic" fill="#6a6a6a" stroke="#6a6a6a" stroke-width="0.07">20</text>
<text transform="translate(194.10,861.15) scale(1,1.06)" font-size="7.2" text-anchor="end" font-style="italic" fill="#6a6a6a" stroke="#6a6a6a" stroke-width="0.07">24</text>
<text transform="translate(194.10,870.25) scale(1,1.06)" font-size="7.2" text-anchor="end" font-style="italic" fill="#6a6a6a" stroke="#6a6a6a" stroke-width="0.07">17</text>
<rect x="32.50" y="949.80" width="163.00" height="21.35" fill="#fff" stroke="#3c3c3c" stroke-width="1.15"/>
<line x1="32.50" y1="960.65" x2="195.50" y2="960.65" stroke="#3c3c3c" stroke-width="1.15"/>
<line x1="45.20" y1="949.80" x2="45.20" y2="971.15" stroke="#3c3c3c" stroke-width="1.15"/>
<line x1="136.50" y1="949.80" x2="136.50" y2="971.15" stroke="#3c3c3c" stroke-width="1.15"/>
<line x1="172.40" y1="949.80" x2="172.40" y2="971.15" stroke="#3c3c3c" stroke-width="1.15"/>
<text transform="translate(38.85,958.30) scale(1,1.06)" font-size="7.7" text-anchor="middle" font-weight="bold" stroke="#000" stroke-width="0.07">15</text>
<text transform="translate(47.20,958.30) scale(1,1.06)" font-size="7.7" stroke="#000" stroke-width="0.07">LÖNNKVIST Erik</text>
<text transform="translate(154.45,958.00) scale(1,1.06)" font-size="6.4" text-anchor="middle" stroke="#000" stroke-width="0.07">7903</text>
<text transform="translate(193.80,958.40) scale(1,1.06)" font-size="8.1" text-anchor="end" stroke="#000" stroke-width="0.07">0</text>
<text transform="translate(38.85,969.15) scale(1,1.06)" font-size="7.7" text-anchor="middle" font-weight="bold" stroke="#000" stroke-width="0.07">2</text>
<text transform="translate(47.20,969.15) scale(1,1.06)" font-size="7.7" stroke="#000" stroke-width="0.07">LARSSON Alf JP</text>
<text transform="translate(154.45,968.85) scale(1,1.06)" font-size="6.4" text-anchor="middle" stroke="#000" stroke-width="0.07">7872</text>
<text transform="translate(193.80,969.25) scale(1,1.06)" font-size="8.1" text-anchor="end" stroke="#000" stroke-width="0.07">6</text>
<rect x="163.25" y="971.45" width="32.25" height="18.20" fill="#fff" stroke="#8e8e8e" stroke-width="0.9"/>
<line x1="174.00" y1="971.45" x2="174.00" y2="989.65" stroke="#8e8e8e" stroke-width="0.9"/>
<line x1="184.75" y1="971.45" x2="184.75" y2="989.65" stroke="#8e8e8e" stroke-width="0.9"/>
<line x1="163.25" y1="980.55" x2="195.50" y2="980.55" stroke="#8e8e8e" stroke-width="0.9"/>
<text transform="translate(172.60,979.05) scale(1,1.06)" font-size="7.2" text-anchor="end" font-style="italic" fill="#6a6a6a" stroke="#6a6a6a" stroke-width="0.07">22</text>
<text transform="translate(172.60,988.15) scale(1,1.06)" font-size="7.2" text-anchor="end" font-style="italic" fill="#6a6a6a" stroke="#6a6a6a" stroke-width="0.07">27</text>
<text transform="translate(183.35,979.05) scale(1,1.06)" font-size="7.2" text-anchor="end" font-style="italic" fill="#6a6a6a" stroke="#6a6a6a" stroke-width="0.07">16</text>
<text transform="translate(183.35,988.15) scale(1,1.06)" font-size="7.2" text-anchor="end" font-style="italic" fill="#6a6a6a" stroke="#6a6a6a" stroke-width="0.07">28</text>
<text transform="translate(194.10,979.05) scale(1,1.06)" font-size="7.2" text-anchor="end" font-style="italic" fill="#6a6a6a" stroke="#6a6a6a" stroke-width="0.07">19</text>
<text transform="translate(194.10,988.15) scale(1,1.06)" font-size="7.2" text-anchor="end" font-style="italic" fill="#6a6a6a" stroke="#6a6a6a" stroke-width="0.07">25</text>
<rect x="247.50" y="183.30" width="114.60" height="21.35" fill="#fff" stroke="#3c3c3c" stroke-width="1.15"/>
<line x1="247.50" y1="194.15" x2="362.10" y2="194.15" stroke="#3c3c3c" stroke-width="1.15"/>
<line x1="339.70" y1="183.30" x2="339.70" y2="204.65" stroke="#3c3c3c" stroke-width="1.15"/>
<text transform="translate(249.50,191.80) scale(1,1.06)" font-size="7.7" stroke="#000" stroke-width="0.07">Pettersson K.</text>
<text transform="translate(360.40,191.90) scale(1,1.06)" font-size="8.1" text-anchor="end" stroke="#000" stroke-width="0.07">6</text>
<text transform="translate(249.50,202.65) scale(1,1.06)" font-size="7.7" stroke="#000" stroke-width="0.07">Blom L.</text>
<text transform="translate(360.40,202.75) scale(1,1.06)" font-size="8.1" text-anchor="end" stroke="#000" stroke-width="0.07">4</text>
<rect x="308.35" y="204.95" width="53.75" height="18.20" fill="#fff" stroke="#8e8e8e" stroke-width="0.9"/>
<line x1="319.10" y1="204.95" x2="319.10" y2="223.15" stroke="#8e8e8e" stroke-width="0.9"/>
<line x1="329.85" y1="204.95" x2="329.85" y2="223.15" stroke="#8e8e8e" stroke-width="0.9"/>
<line x1="340.60" y1="204.95" x2="340.60" y2="223.15" stroke="#8e8e8e" stroke-width="0.9"/>
<line x1="351.35" y1="204.95" x2="351.35" y2="223.15" stroke="#8e8e8e" stroke-width="0.9"/>
<line x1="308.35" y1="214.05" x2="362.10" y2="214.05" stroke="#8e8e8e" stroke-width="0.9"/>
<text transform="translate(317.70,212.55) scale(1,1.06)" font-size="7.2" text-anchor="end" font-style="italic" fill="#6a6a6a" stroke="#6a6a6a" stroke-width="0.07">25</text>
<text transform="translate(317.70,221.65) scale(1,1.06)" font-size="7.2" text-anchor="end" font-style="italic" fill="#6a6a6a" stroke="#6a6a6a" stroke-width="0.07">21</text>
<text transform="translate(328.45,212.55) scale(1,1.06)" font-size="7.2" text-anchor="end" font-style="italic" fill="#6a6a6a" stroke="#6a6a6a" stroke-width="0.07">26</text>
<text transform="translate(328.45,221.65) scale(1,1.06)" font-size="7.2" text-anchor="end" font-style="italic" fill="#6a6a6a" stroke="#6a6a6a" stroke-width="0.07">27</text>
<text transform="translate(339.20,212.55) scale(1,1.06)" font-size="7.2" text-anchor="end" font-style="italic" fill="#6a6a6a" stroke="#6a6a6a" stroke-width="0.07">27</text>
<text transform="translate(339.20,221.65) scale(1,1.06)" font-size="7.2" text-anchor="end" font-style="italic" fill="#6a6a6a" stroke="#6a6a6a" stroke-width="0.07">22</text>
<text transform="translate(349.95,212.55) scale(1,1.06)" font-size="7.2" text-anchor="end" font-style="italic" fill="#6a6a6a" stroke="#6a6a6a" stroke-width="0.07">24</text>
<text transform="translate(349.95,221.65) scale(1,1.06)" font-size="7.2" text-anchor="end" font-style="italic" fill="#6a6a6a" stroke="#6a6a6a" stroke-width="0.07">25</text>
<text transform="translate(360.70,212.55) scale(1,1.06)" font-size="7.2" text-anchor="end" font-style="italic" fill="#6a6a6a" stroke="#6a6a6a" stroke-width="0.07">27</text>
<text transform="translate(360.70,221.65) scale(1,1.06)" font-size="7.2" text-anchor="end" font-style="italic" fill="#6a6a6a" stroke="#6a6a6a" stroke-width="0.07">24</text>
<rect x="247.50" y="419.10" width="114.60" height="21.35" fill="#fff" stroke="#3c3c3c" stroke-width="1.15"/>
<line x1="247.50" y1="429.95" x2="362.10" y2="429.95" stroke="#3c3c3c" stroke-width="1.15"/>
<line x1="339.70" y1="419.10" x2="339.70" y2="440.45" stroke="#3c3c3c" stroke-width="1.15"/>
<text transform="translate(249.50,427.60) scale(1,1.06)" font-size="7.7" stroke="#000" stroke-width="0.07">Persson B.</text>
<text transform="translate(360.40,427.70) scale(1,1.06)" font-size="8.1" text-anchor="end" stroke="#000" stroke-width="0.07">3</text>
<text transform="translate(249.50,438.45) scale(1,1.06)" font-size="7.7" stroke="#000" stroke-width="0.07">Lindkvist Å.</text>
<text transform="translate(360.40,438.55) scale(1,1.06)" font-size="8.1" text-anchor="end" stroke="#000" stroke-width="0.07">7</text>
<rect x="308.35" y="440.75" width="53.75" height="18.20" fill="#fff" stroke="#8e8e8e" stroke-width="0.9"/>
<line x1="319.10" y1="440.75" x2="319.10" y2="458.95" stroke="#8e8e8e" stroke-width="0.9"/>
<line x1="329.85" y1="440.75" x2="329.85" y2="458.95" stroke="#8e8e8e" stroke-width="0.9"/>
<line x1="340.60" y1="440.75" x2="340.60" y2="458.95" stroke="#8e8e8e" stroke-width="0.9"/>
<line x1="351.35" y1="440.75" x2="351.35" y2="458.95" stroke="#8e8e8e" stroke-width="0.9"/>
<line x1="308.35" y1="449.85" x2="362.10" y2="449.85" stroke="#8e8e8e" stroke-width="0.9"/>
<text transform="translate(317.70,448.35) scale(1,1.06)" font-size="7.2" text-anchor="end" font-style="italic" fill="#6a6a6a" stroke="#6a6a6a" stroke-width="0.07">24</text>
<text transform="translate(317.70,457.45) scale(1,1.06)" font-size="7.2" text-anchor="end" font-style="italic" fill="#6a6a6a" stroke="#6a6a6a" stroke-width="0.07">23</text>
<text transform="translate(328.45,448.35) scale(1,1.06)" font-size="7.2" text-anchor="end" font-style="italic" fill="#6a6a6a" stroke="#6a6a6a" stroke-width="0.07">23</text>
<text transform="translate(328.45,457.45) scale(1,1.06)" font-size="7.2" text-anchor="end" font-style="italic" fill="#6a6a6a" stroke="#6a6a6a" stroke-width="0.07">24</text>
<text transform="translate(339.20,448.35) scale(1,1.06)" font-size="7.2" text-anchor="end" font-style="italic" fill="#6a6a6a" stroke="#6a6a6a" stroke-width="0.07">24</text>
<text transform="translate(339.20,457.45) scale(1,1.06)" font-size="7.2" text-anchor="end" font-style="italic" fill="#6a6a6a" stroke="#6a6a6a" stroke-width="0.07">24</text>
<text transform="translate(349.95,448.35) scale(1,1.06)" font-size="7.2" text-anchor="end" font-style="italic" fill="#6a6a6a" stroke="#6a6a6a" stroke-width="0.07">21</text>
<text transform="translate(349.95,457.45) scale(1,1.06)" font-size="7.2" text-anchor="end" font-style="italic" fill="#6a6a6a" stroke="#6a6a6a" stroke-width="0.07">25</text>
<text transform="translate(360.70,448.35) scale(1,1.06)" font-size="7.2" text-anchor="end" font-style="italic" fill="#6a6a6a" stroke="#6a6a6a" stroke-width="0.07">24</text>
<text transform="translate(360.70,457.45) scale(1,1.06)" font-size="7.2" text-anchor="end" font-style="italic" fill="#6a6a6a" stroke="#6a6a6a" stroke-width="0.07">27</text>
<rect x="247.50" y="654.90" width="114.60" height="21.35" fill="#fff" stroke="#3c3c3c" stroke-width="1.15"/>
<line x1="247.50" y1="665.75" x2="362.10" y2="665.75" stroke="#3c3c3c" stroke-width="1.15"/>
<line x1="339.70" y1="654.90" x2="339.70" y2="676.25" stroke="#3c3c3c" stroke-width="1.15"/>
<text transform="translate(249.50,663.40) scale(1,1.06)" font-size="7.7" stroke="#000" stroke-width="0.07">Haapala A.</text>
<text transform="translate(360.40,663.50) scale(1,1.06)" font-size="8.1" text-anchor="end" stroke="#000" stroke-width="0.07">5</text>
<text transform="translate(364.30,663.40) scale(1,1.06)" font-size="7.7" stroke="#000" stroke-width="0.07">T.6</text>
<text transform="translate(249.50,674.25) scale(1,1.06)" font-size="7.7" stroke="#000" stroke-width="0.07">Sjöberg G.</text>
<text transform="translate(360.40,674.35) scale(1,1.06)" font-size="8.1" text-anchor="end" stroke="#000" stroke-width="0.07">6</text>
<text transform="translate(364.30,674.25) scale(1,1.06)" font-size="7.7" stroke="#000" stroke-width="0.07">T.9</text>
<rect x="308.35" y="676.55" width="53.75" height="18.20" fill="#fff" stroke="#8e8e8e" stroke-width="0.9"/>
<line x1="319.10" y1="676.55" x2="319.10" y2="694.75" stroke="#8e8e8e" stroke-width="0.9"/>
<line x1="329.85" y1="676.55" x2="329.85" y2="694.75" stroke="#8e8e8e" stroke-width="0.9"/>
<line x1="340.60" y1="676.55" x2="340.60" y2="694.75" stroke="#8e8e8e" stroke-width="0.9"/>
<line x1="351.35" y1="676.55" x2="351.35" y2="694.75" stroke="#8e8e8e" stroke-width="0.9"/>
<line x1="308.35" y1="685.65" x2="362.10" y2="685.65" stroke="#8e8e8e" stroke-width="0.9"/>
<text transform="translate(317.70,684.15) scale(1,1.06)" font-size="7.2" text-anchor="end" font-style="italic" fill="#6a6a6a" stroke="#6a6a6a" stroke-width="0.07">24</text>
<text transform="translate(317.70,693.25) scale(1,1.06)" font-size="7.2" text-anchor="end" font-style="italic" fill="#6a6a6a" stroke="#6a6a6a" stroke-width="0.07">28</text>
<text transform="translate(328.45,684.15) scale(1,1.06)" font-size="7.2" text-anchor="end" font-style="italic" fill="#6a6a6a" stroke="#6a6a6a" stroke-width="0.07">24</text>
<text transform="translate(328.45,693.25) scale(1,1.06)" font-size="7.2" text-anchor="end" font-style="italic" fill="#6a6a6a" stroke="#6a6a6a" stroke-width="0.07">23</text>
<text transform="translate(339.20,684.15) scale(1,1.06)" font-size="7.2" text-anchor="end" font-style="italic" fill="#6a6a6a" stroke="#6a6a6a" stroke-width="0.07">24</text>
<text transform="translate(339.20,693.25) scale(1,1.06)" font-size="7.2" text-anchor="end" font-style="italic" fill="#6a6a6a" stroke="#6a6a6a" stroke-width="0.07">23</text>
<text transform="translate(349.95,684.15) scale(1,1.06)" font-size="7.2" text-anchor="end" font-style="italic" fill="#6a6a6a" stroke="#6a6a6a" stroke-width="0.07">20</text>
<text transform="translate(349.95,693.25) scale(1,1.06)" font-size="7.2" text-anchor="end" font-style="italic" fill="#6a6a6a" stroke="#6a6a6a" stroke-width="0.07">27</text>
<text transform="translate(360.70,684.15) scale(1,1.06)" font-size="7.2" text-anchor="end" font-style="italic" fill="#6a6a6a" stroke="#6a6a6a" stroke-width="0.07">26</text>
<text transform="translate(360.70,693.25) scale(1,1.06)" font-size="7.2" text-anchor="end" font-style="italic" fill="#6a6a6a" stroke="#6a6a6a" stroke-width="0.07">26</text>
<rect x="247.50" y="890.70" width="114.60" height="21.35" fill="#fff" stroke="#3c3c3c" stroke-width="1.15"/>
<line x1="247.50" y1="901.55" x2="362.10" y2="901.55" stroke="#3c3c3c" stroke-width="1.15"/>
<line x1="339.70" y1="890.70" x2="339.70" y2="912.05" stroke="#3c3c3c" stroke-width="1.15"/>
<text transform="translate(249.50,899.20) scale(1,1.06)" font-size="7.7" stroke="#000" stroke-width="0.07">Olsson T.</text>
<text transform="translate(360.40,899.30) scale(1,1.06)" font-size="8.1" text-anchor="end" stroke="#000" stroke-width="0.07">7</text>
<text transform="translate(249.50,910.05) scale(1,1.06)" font-size="7.7" stroke="#000" stroke-width="0.07">Larsson A.</text>
<text transform="translate(360.40,910.15) scale(1,1.06)" font-size="8.1" text-anchor="end" stroke="#000" stroke-width="0.07">1</text>
<rect x="319.10" y="912.35" width="43.00" height="18.20" fill="#fff" stroke="#8e8e8e" stroke-width="0.9"/>
<line x1="329.85" y1="912.35" x2="329.85" y2="930.55" stroke="#8e8e8e" stroke-width="0.9"/>
<line x1="340.60" y1="912.35" x2="340.60" y2="930.55" stroke="#8e8e8e" stroke-width="0.9"/>
<line x1="351.35" y1="912.35" x2="351.35" y2="930.55" stroke="#8e8e8e" stroke-width="0.9"/>
<line x1="319.10" y1="921.45" x2="362.10" y2="921.45" stroke="#8e8e8e" stroke-width="0.9"/>
<text transform="translate(328.45,919.95) scale(1,1.06)" font-size="7.2" text-anchor="end" font-style="italic" fill="#6a6a6a" stroke="#6a6a6a" stroke-width="0.07">27</text>
<text transform="translate(328.45,929.05) scale(1,1.06)" font-size="7.2" text-anchor="end" font-style="italic" fill="#6a6a6a" stroke="#6a6a6a" stroke-width="0.07">24</text>
<text transform="translate(339.20,919.95) scale(1,1.06)" font-size="7.2" text-anchor="end" font-style="italic" fill="#6a6a6a" stroke="#6a6a6a" stroke-width="0.07">24</text>
<text transform="translate(339.20,929.05) scale(1,1.06)" font-size="7.2" text-anchor="end" font-style="italic" fill="#6a6a6a" stroke="#6a6a6a" stroke-width="0.07">24</text>
<text transform="translate(349.95,919.95) scale(1,1.06)" font-size="7.2" text-anchor="end" font-style="italic" fill="#6a6a6a" stroke="#6a6a6a" stroke-width="0.07">24</text>
<text transform="translate(349.95,929.05) scale(1,1.06)" font-size="7.2" text-anchor="end" font-style="italic" fill="#6a6a6a" stroke="#6a6a6a" stroke-width="0.07">23</text>
<text transform="translate(360.70,919.95) scale(1,1.06)" font-size="7.2" text-anchor="end" font-style="italic" fill="#6a6a6a" stroke="#6a6a6a" stroke-width="0.07">27</text>
<text transform="translate(360.70,929.05) scale(1,1.06)" font-size="7.2" text-anchor="end" font-style="italic" fill="#6a6a6a" stroke="#6a6a6a" stroke-width="0.07">19</text>
<rect x="413.40" y="301.30" width="114.60" height="21.35" fill="#fff" stroke="#3c3c3c" stroke-width="1.15"/>
<line x1="413.40" y1="312.15" x2="528.00" y2="312.15" stroke="#3c3c3c" stroke-width="1.15"/>
<line x1="505.60" y1="301.30" x2="505.60" y2="322.65" stroke="#3c3c3c" stroke-width="1.15"/>
<text transform="translate(415.40,309.80) scale(1,1.06)" font-size="7.7" stroke="#000" stroke-width="0.07">Pettersson K.</text>
<text transform="translate(526.30,309.90) scale(1,1.06)" font-size="8.1" text-anchor="end" stroke="#000" stroke-width="0.07">6</text>
<text transform="translate(415.40,320.65) scale(1,1.06)" font-size="7.7" stroke="#000" stroke-width="0.07">Lindkvist Å.</text>
<text transform="translate(526.30,320.75) scale(1,1.06)" font-size="8.1" text-anchor="end" stroke="#000" stroke-width="0.07">2</text>
<rect x="485.00" y="322.95" width="43.00" height="18.20" fill="#fff" stroke="#8e8e8e" stroke-width="0.9"/>
<line x1="495.75" y1="322.95" x2="495.75" y2="341.15" stroke="#8e8e8e" stroke-width="0.9"/>
<line x1="506.50" y1="322.95" x2="506.50" y2="341.15" stroke="#8e8e8e" stroke-width="0.9"/>
<line x1="517.25" y1="322.95" x2="517.25" y2="341.15" stroke="#8e8e8e" stroke-width="0.9"/>
<line x1="485.00" y1="332.05" x2="528.00" y2="332.05" stroke="#8e8e8e" stroke-width="0.9"/>
<text transform="translate(494.35,330.55) scale(1,1.06)" font-size="7.2" text-anchor="end" font-style="italic" fill="#6a6a6a" stroke="#6a6a6a" stroke-width="0.07">24</text>
<text transform="translate(494.35,339.65) scale(1,1.06)" font-size="7.2" text-anchor="end" font-style="italic" fill="#6a6a6a" stroke="#6a6a6a" stroke-width="0.07">23</text>
<text transform="translate(505.10,330.55) scale(1,1.06)" font-size="7.2" text-anchor="end" font-style="italic" fill="#6a6a6a" stroke="#6a6a6a" stroke-width="0.07">22</text>
<text transform="translate(505.10,339.65) scale(1,1.06)" font-size="7.2" text-anchor="end" font-style="italic" fill="#6a6a6a" stroke="#6a6a6a" stroke-width="0.07">25</text>
<text transform="translate(515.85,330.55) scale(1,1.06)" font-size="7.2" text-anchor="end" font-style="italic" fill="#6a6a6a" stroke="#6a6a6a" stroke-width="0.07">27</text>
<text transform="translate(515.85,339.65) scale(1,1.06)" font-size="7.2" text-anchor="end" font-style="italic" fill="#6a6a6a" stroke="#6a6a6a" stroke-width="0.07">26</text>
<text transform="translate(526.60,330.55) scale(1,1.06)" font-size="7.2" text-anchor="end" font-style="italic" fill="#6a6a6a" stroke="#6a6a6a" stroke-width="0.07">26</text>
<text transform="translate(526.60,339.65) scale(1,1.06)" font-size="7.2" text-anchor="end" font-style="italic" fill="#6a6a6a" stroke="#6a6a6a" stroke-width="0.07">21</text>
<rect x="413.40" y="772.90" width="114.60" height="21.35" fill="#fff" stroke="#3c3c3c" stroke-width="1.15"/>
<line x1="413.40" y1="783.75" x2="528.00" y2="783.75" stroke="#3c3c3c" stroke-width="1.15"/>
<line x1="505.60" y1="772.90" x2="505.60" y2="794.25" stroke="#3c3c3c" stroke-width="1.15"/>
<text transform="translate(415.40,781.40) scale(1,1.06)" font-size="7.7" stroke="#000" stroke-width="0.07">Sjöberg G.</text>
<text transform="translate(526.30,781.50) scale(1,1.06)" font-size="8.1" text-anchor="end" stroke="#000" stroke-width="0.07">0</text>
<text transform="translate(415.40,792.25) scale(1,1.06)" font-size="7.7" stroke="#000" stroke-width="0.07">Olsson T.</text>
<text transform="translate(526.30,792.35) scale(1,1.06)" font-size="8.1" text-anchor="end" stroke="#000" stroke-width="0.07">6</text>
<rect x="495.75" y="794.55" width="32.25" height="18.20" fill="#fff" stroke="#8e8e8e" stroke-width="0.9"/>
<line x1="506.50" y1="794.55" x2="506.50" y2="812.75" stroke="#8e8e8e" stroke-width="0.9"/>
<line x1="517.25" y1="794.55" x2="517.25" y2="812.75" stroke="#8e8e8e" stroke-width="0.9"/>
<line x1="495.75" y1="803.65" x2="528.00" y2="803.65" stroke="#8e8e8e" stroke-width="0.9"/>
<text transform="translate(505.10,802.15) scale(1,1.06)" font-size="7.2" text-anchor="end" font-style="italic" fill="#6a6a6a" stroke="#6a6a6a" stroke-width="0.07">26</text>
<text transform="translate(505.10,811.25) scale(1,1.06)" font-size="7.2" text-anchor="end" font-style="italic" fill="#6a6a6a" stroke="#6a6a6a" stroke-width="0.07">27</text>
<text transform="translate(515.85,802.15) scale(1,1.06)" font-size="7.2" text-anchor="end" font-style="italic" fill="#6a6a6a" stroke="#6a6a6a" stroke-width="0.07">22</text>
<text transform="translate(515.85,811.25) scale(1,1.06)" font-size="7.2" text-anchor="end" font-style="italic" fill="#6a6a6a" stroke="#6a6a6a" stroke-width="0.07">27</text>
<text transform="translate(526.60,802.15) scale(1,1.06)" font-size="7.2" text-anchor="end" font-style="italic" fill="#6a6a6a" stroke="#6a6a6a" stroke-width="0.07">25</text>
<text transform="translate(526.60,811.25) scale(1,1.06)" font-size="7.2" text-anchor="end" font-style="italic" fill="#6a6a6a" stroke="#6a6a6a" stroke-width="0.07">26</text>
<rect x="413.50" y="537.00" width="114.60" height="21.35" fill="#fff" stroke="#3c3c3c" stroke-width="1.15"/>
<line x1="413.50" y1="547.85" x2="528.10" y2="547.85" stroke="#3c3c3c" stroke-width="1.15"/>
<line x1="505.70" y1="537.00" x2="505.70" y2="558.35" stroke="#3c3c3c" stroke-width="1.15"/>
<text transform="translate(415.50,545.50) scale(1,1.06)" font-size="7.7" stroke="#000" stroke-width="0.07">Lindkvist Å.</text>
<text transform="translate(526.40,545.60) scale(1,1.06)" font-size="8.1" text-anchor="end" stroke="#000" stroke-width="0.07">6</text>
<text transform="translate(530.30,545.50) scale(1,1.06)" font-size="7.7" stroke="#000" stroke-width="0.07">T.9</text>
<text transform="translate(415.50,556.35) scale(1,1.06)" font-size="7.7" stroke="#000" stroke-width="0.07">Sjöberg G.</text>
<text transform="translate(526.40,556.45) scale(1,1.06)" font-size="8.1" text-anchor="end" stroke="#000" stroke-width="0.07">5</text>
<text transform="translate(530.30,556.35) scale(1,1.06)" font-size="7.7" stroke="#000" stroke-width="0.07">T.8</text>
<rect x="474.35" y="558.65" width="53.75" height="18.20" fill="#fff" stroke="#8e8e8e" stroke-width="0.9"/>
<line x1="485.10" y1="558.65" x2="485.10" y2="576.85" stroke="#8e8e8e" stroke-width="0.9"/>
<line x1="495.85" y1="558.65" x2="495.85" y2="576.85" stroke="#8e8e8e" stroke-width="0.9"/>
<line x1="506.60" y1="558.65" x2="506.60" y2="576.85" stroke="#8e8e8e" stroke-width="0.9"/>
<line x1="517.35" y1="558.65" x2="517.35" y2="576.85" stroke="#8e8e8e" stroke-width="0.9"/>
<line x1="474.35" y1="567.75" x2="528.10" y2="567.75" stroke="#8e8e8e" stroke-width="0.9"/>
<text transform="translate(483.70,566.25) scale(1,1.06)" font-size="7.2" text-anchor="end" font-style="italic" fill="#6a6a6a" stroke="#6a6a6a" stroke-width="0.07">25</text>
<text transform="translate(483.70,575.35) scale(1,1.06)" font-size="7.2" text-anchor="end" font-style="italic" fill="#6a6a6a" stroke="#6a6a6a" stroke-width="0.07">25</text>
<text transform="translate(494.45,566.25) scale(1,1.06)" font-size="7.2" text-anchor="end" font-style="italic" fill="#6a6a6a" stroke="#6a6a6a" stroke-width="0.07">22</text>
<text transform="translate(494.45,575.35) scale(1,1.06)" font-size="7.2" text-anchor="end" font-style="italic" fill="#6a6a6a" stroke="#6a6a6a" stroke-width="0.07">26</text>
<text transform="translate(505.20,566.25) scale(1,1.06)" font-size="7.2" text-anchor="end" font-style="italic" fill="#6a6a6a" stroke="#6a6a6a" stroke-width="0.07">21</text>
<text transform="translate(505.20,575.35) scale(1,1.06)" font-size="7.2" text-anchor="end" font-style="italic" fill="#6a6a6a" stroke="#6a6a6a" stroke-width="0.07">20</text>
<text transform="translate(515.95,566.25) scale(1,1.06)" font-size="7.2" text-anchor="end" font-style="italic" fill="#6a6a6a" stroke="#6a6a6a" stroke-width="0.07">26</text>
<text transform="translate(515.95,575.35) scale(1,1.06)" font-size="7.2" text-anchor="end" font-style="italic" fill="#6a6a6a" stroke="#6a6a6a" stroke-width="0.07">24</text>
<text transform="translate(526.70,566.25) scale(1,1.06)" font-size="7.2" text-anchor="end" font-style="italic" fill="#6a6a6a" stroke="#6a6a6a" stroke-width="0.07">24</text>
<text transform="translate(526.70,575.35) scale(1,1.06)" font-size="7.2" text-anchor="end" font-style="italic" fill="#6a6a6a" stroke="#6a6a6a" stroke-width="0.07">27</text>
<rect x="580.00" y="537.40" width="114.60" height="21.35" fill="#fff" stroke="#3c3c3c" stroke-width="1.15"/>
<line x1="580.00" y1="548.25" x2="694.60" y2="548.25" stroke="#3c3c3c" stroke-width="1.15"/>
<line x1="672.20" y1="537.40" x2="672.20" y2="558.75" stroke="#3c3c3c" stroke-width="1.15"/>
<text transform="translate(582.00,545.90) scale(1,1.06)" font-size="7.7" stroke="#000" stroke-width="0.07">Pettersson K.</text>
<text transform="translate(582.00,556.75) scale(1,1.06)" font-size="7.7" stroke="#000" stroke-width="0.07">Olsson T.</text>
<text transform="translate(471.20,525.00) scale(1,1.06)" font-size="8.6" text-anchor="middle" font-weight="bold" stroke="#000" stroke-width="0.07">Brons</text>
<text transform="translate(637.50,525.00) scale(1,1.06)" font-size="8.6" text-anchor="middle" font-weight="bold" stroke="#000" stroke-width="0.07">Guld</text>
<text transform="translate(583.00,533.60) scale(1,1.06)" font-size="7.6" font-style="italic" stroke="#000" stroke-width="0.07">T# 21 20-07-2025 @ 13:55</text>
<text transform="translate(583.00,566.00) scale(1,1.06)" font-size="7.6" font-style="italic" stroke="#000" stroke-width="0.07">T# 22</text>
<line x1="33" y1="996.8" x2="717.8" y2="996.8" stroke="#888" stroke-width="1.2"/>
</svg>
</body></html>
